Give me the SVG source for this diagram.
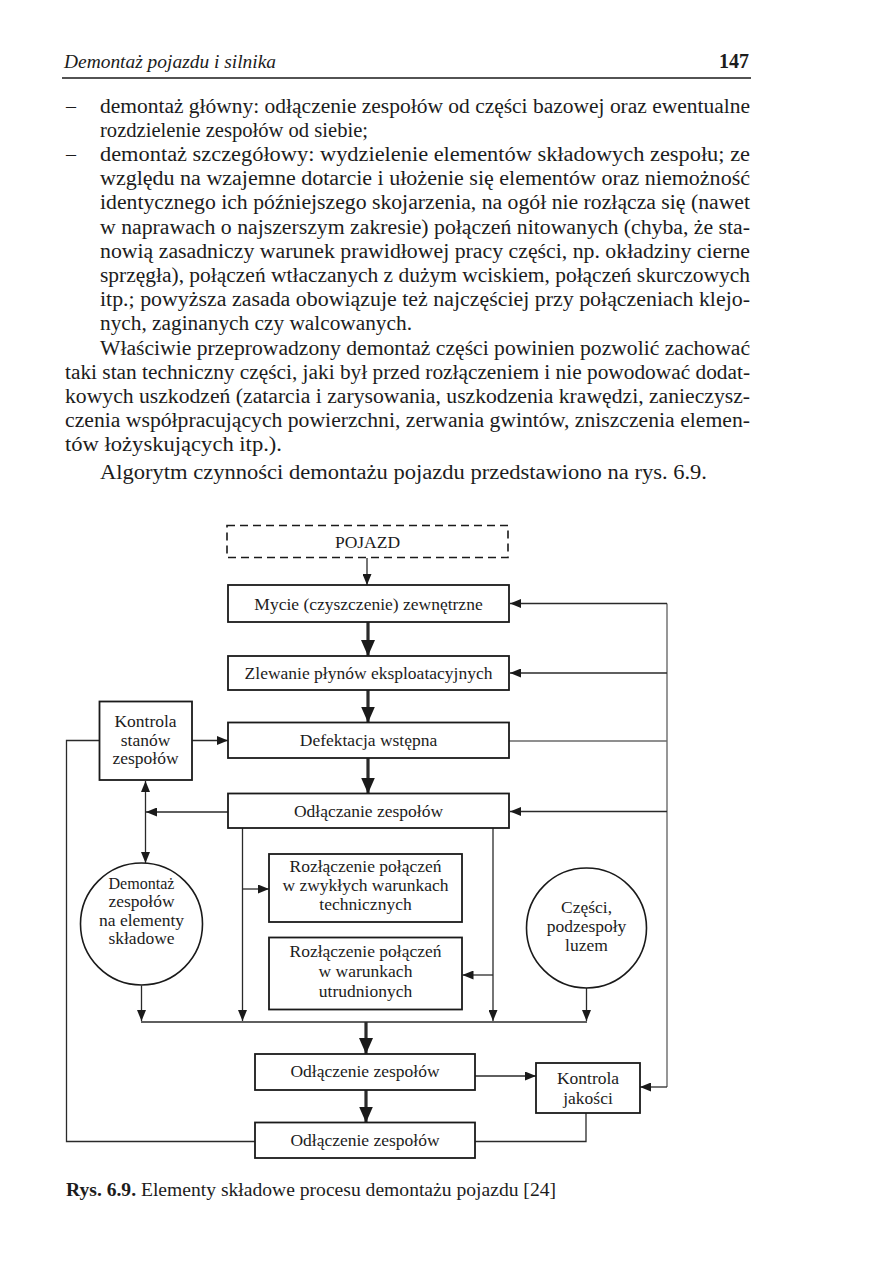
<svg xmlns="http://www.w3.org/2000/svg" width="893" height="1263" viewBox="0 0 893 1263">
<style>
.t{font-family:"Liberation Serif","Times New Roman",serif;fill:#1c1c1c}
.body{font-size:20px}
.lbl{font-size:17.5px;text-anchor:middle}
.box{fill:#fff;stroke:#1a1a1a;stroke-width:1.8}
.ln{fill:none;stroke:#2a2a2a;stroke-width:1.3}
.gr{fill:none;stroke:#6a6a6a;stroke-width:1.4}
.thick{fill:none;stroke:#2a2a2a;stroke-width:3.2}
</style>
<defs>
<marker id="a" markerUnits="userSpaceOnUse" markerWidth="11" markerHeight="9" refX="11" refY="4.5" orient="auto-start-reverse"><path d="M0,0 L11,4.5 L0,9 z" fill="#1a1a1a"/></marker>
<marker id="A" markerUnits="userSpaceOnUse" markerWidth="16" markerHeight="16" refX="16" refY="8" orient="auto"><path d="M0,1 L16,8 L0,15 z" fill="#1a1a1a"/></marker>
</defs>
<rect width="893" height="1263" fill="#fff"/>

<g id="page-text">
<text class="t" x="64" y="68" font-size="18.5" font-style="italic" textLength="212" lengthAdjust="spacingAndGlyphs">Demontaż pojazdu i silnika</text>
<text class="t" x="749" y="68" font-size="20" font-weight="bold" text-anchor="end">147</text>
<line x1="62" y1="78" x2="751" y2="78" stroke="#1a1a1a" stroke-width="1.6"/>
<text class="t body" x="66" y="113">–</text>
<text class="t body" x="100" y="113" textLength="650" lengthAdjust="spacingAndGlyphs">demontaż główny: odłączenie zespołów od części bazowej oraz ewentualne</text>
<text class="t body" x="100" y="137" textLength="268" lengthAdjust="spacingAndGlyphs">rozdzielenie zespołów od siebie;</text>
<text class="t body" x="66" y="161">–</text>
<text class="t body" x="100" y="161" textLength="650" lengthAdjust="spacingAndGlyphs">demontaż szczegółowy: wydzielenie elementów składowych zespołu; ze</text>
<text class="t body" x="100" y="185" textLength="650" lengthAdjust="spacingAndGlyphs">względu na wzajemne dotarcie i ułożenie się elementów oraz niemożność</text>
<text class="t body" x="100" y="209" textLength="650" lengthAdjust="spacingAndGlyphs">identycznego ich późniejszego skojarzenia, na ogół nie rozłącza się (nawet</text>
<text class="t body" x="100" y="234" textLength="650" lengthAdjust="spacingAndGlyphs">w naprawach o najszerszym zakresie) połączeń nitowanych (chyba, że sta-</text>
<text class="t body" x="100" y="258" textLength="650" lengthAdjust="spacingAndGlyphs">nowią zasadniczy warunek prawidłowej pracy części, np. okładziny cierne</text>
<text class="t body" x="100" y="282" textLength="650" lengthAdjust="spacingAndGlyphs">sprzęgła), połączeń wtłaczanych z dużym wciskiem, połączeń skurczowych</text>
<text class="t body" x="100" y="306" textLength="650" lengthAdjust="spacingAndGlyphs">itp.; powyższa zasada obowiązuje też najczęściej przy połączeniach klejo-</text>
<text class="t body" x="100" y="330" textLength="312" lengthAdjust="spacingAndGlyphs">nych, zaginanych czy walcowanych.</text>
<text class="t body" x="100" y="355" textLength="650" lengthAdjust="spacingAndGlyphs">Właściwie przeprowadzony demontaż części powinien pozwolić zachować</text>
<text class="t body" x="65" y="379" textLength="685" lengthAdjust="spacingAndGlyphs">taki stan techniczny części, jaki był przed rozłączeniem i nie powodować dodat-</text>
<text class="t body" x="65" y="403" textLength="685" lengthAdjust="spacingAndGlyphs">kowych uszkodzeń (zatarcia i zarysowania, uszkodzenia krawędzi, zanieczysz-</text>
<text class="t body" x="65" y="427" textLength="685" lengthAdjust="spacingAndGlyphs">czenia współpracujących powierzchni, zerwania gwintów, zniszczenia elemen-</text>
<text class="t body" x="65" y="451" textLength="217" lengthAdjust="spacingAndGlyphs">tów łożyskujących itp.).</text>
<text class="t body" x="100" y="479" textLength="607" lengthAdjust="spacingAndGlyphs">Algorytm czynności demontażu pojazdu przedstawiono na rys. 6.9.</text>
<text class="t" x="66" y="1196" font-size="18.5" fill="#333" textLength="490" lengthAdjust="spacingAndGlyphs"><tspan font-weight="bold">Rys. 6.9.</tspan> Elementy składowe procesu demontażu pojazdu [24]</text>
</g>

<g id="connectors">
<line class="ln" x1="367" y1="558" x2="367" y2="585" marker-end="url(#a)"/>
<line class="thick" x1="368" y1="622" x2="368" y2="656" marker-end="url(#A)"/>
<line class="thick" x1="368" y1="690" x2="368" y2="722.5" marker-end="url(#A)"/>
<line class="thick" x1="368" y1="758" x2="368" y2="793.5" marker-end="url(#A)"/>
<polyline class="gr" points="667,603.5 667,1087"/>
<line class="ln" x1="667" y1="603.5" x2="510" y2="603.5" marker-end="url(#a)"/>
<line class="ln" x1="667" y1="673" x2="510" y2="673" marker-end="url(#a)"/>
<line class="gr" x1="509" y1="741" x2="667" y2="741"/>
<line class="ln" x1="667" y1="811.5" x2="510" y2="811.5" marker-end="url(#a)"/>
<line class="ln" x1="667" y1="1087" x2="640" y2="1087" marker-end="url(#a)"/>
<line class="ln" x1="192" y1="740.5" x2="228" y2="740.5" marker-end="url(#a)"/>
<polyline class="ln" points="99.5,740.5 66.5,740.5 66.5,1141.5 255,1141.5"/>
<line class="ln" x1="145.5" y1="781" x2="145.5" y2="863" marker-start="url(#a)" marker-end="url(#a)"/>
<line class="ln" x1="228" y1="812" x2="146" y2="812" marker-end="url(#a)"/>
<line class="ln" x1="242.5" y1="828" x2="242.5" y2="1021" marker-end="url(#a)"/>
<line class="ln" x1="242.5" y1="889" x2="269" y2="889" marker-end="url(#a)"/>
<line class="ln" x1="493" y1="828" x2="493" y2="1021" marker-end="url(#a)"/>
<line class="ln" x1="493" y1="975" x2="462.5" y2="975" marker-end="url(#a)"/>
<line class="ln" x1="141.5" y1="985.5" x2="141.5" y2="1021" marker-end="url(#a)"/>
<line class="ln" x1="586.5" y1="988" x2="586.5" y2="1021" marker-end="url(#a)"/>
<line class="ln" x1="141" y1="1022" x2="587" y2="1022"/>
<line class="thick" x1="366" y1="1022" x2="366" y2="1054" marker-end="url(#A)"/>
<line class="thick" x1="366" y1="1090" x2="366" y2="1122.5" marker-end="url(#A)"/>
<line class="ln" x1="475" y1="1076" x2="536" y2="1076" marker-end="url(#a)"/>
<polyline class="ln" points="586,1113 586,1141.5 475,1141.5"/>
</g>

<g id="pojazd"><rect x="227" y="525.5" width="281" height="32" fill="none" stroke="#1a1a1a" stroke-width="1.6" stroke-dasharray="8,5"/><text class="t lbl" x="367.5" y="547.5">POJAZD</text></g>
<g id="mycie"><rect class="box" x="228" y="585" width="281" height="37"/><text class="t lbl" x="368.5" y="609.5">Mycie (czyszczenie) zewnętrzne</text></g>
<g id="zlewanie"><rect class="box" x="228" y="656" width="281" height="34"/><text class="t lbl" x="368.5" y="678.5">Zlewanie płynów eksploatacyjnych</text></g>
<g id="defektacja"><rect class="box" x="228" y="722.5" width="281" height="35.5"/><text class="t lbl" x="368.5" y="746">Defektacja wstępna</text></g>
<g id="odlaczanie"><rect class="box" x="228" y="793.5" width="281" height="34.5"/><text class="t lbl" x="368.5" y="816.5">Odłączanie zespołów</text></g>
<g id="kontrola-stanow"><rect class="box" x="99.5" y="701.5" width="92.5" height="78.5"/><text class="t lbl" x="145.5" y="726.5" font-size="18">Kontrola</text><text class="t lbl" x="145.5" y="745.5" font-size="18">stanów</text><text class="t lbl" x="145.5" y="764" font-size="18">zespołów</text></g>
<g id="rozlaczenie-1"><rect class="box" x="269" y="854" width="193" height="68"/><text class="t lbl" x="365.5" y="872">Rozłączenie połączeń</text><text class="t lbl" x="365.5" y="891">w zwykłych warunkach</text><text class="t lbl" x="365.5" y="910">technicznych</text></g>
<g id="rozlaczenie-2"><rect class="box" x="269" y="937.5" width="193" height="72"/><text class="t lbl" x="365.5" y="957">Rozłączenie połączeń</text><text class="t lbl" x="365.5" y="977">w warunkach</text><text class="t lbl" x="365.5" y="997">utrudnionych</text></g>
<g id="demontaz"><circle cx="141.5" cy="924" r="61" fill="#fff" stroke="#1a1a1a" stroke-width="1.6"/><text class="t lbl" x="141.5" y="889" textLength="66" lengthAdjust="spacingAndGlyphs">Demontaż</text><text class="t lbl" x="141.5" y="907">zespołów</text><text class="t lbl" x="141.5" y="925.5">na elementy</text><text class="t lbl" x="141.5" y="944">składowe</text></g>
<g id="czesci"><circle cx="586.5" cy="928" r="60" fill="#fff" stroke="#1a1a1a" stroke-width="1.6"/><text class="t lbl" x="586.5" y="913">Części,</text><text class="t lbl" x="586.5" y="932">podzespoły</text><text class="t lbl" x="586.5" y="951">luzem</text></g>
<g id="odlaczenie-1"><rect class="box" x="255" y="1054" width="220" height="36"/><text class="t lbl" x="365" y="1077">Odłączenie zespołów</text></g>
<g id="odlaczenie-2"><rect class="box" x="255" y="1122.5" width="220" height="35.5"/><text class="t lbl" x="365" y="1145.5">Odłączenie zespołów</text></g>
<g id="kontrola-jakosci"><rect class="box" x="536" y="1063" width="104" height="50"/><text class="t lbl" x="588" y="1084">Kontrola</text><text class="t lbl" x="588" y="1104">jakości</text></g>
</svg>
